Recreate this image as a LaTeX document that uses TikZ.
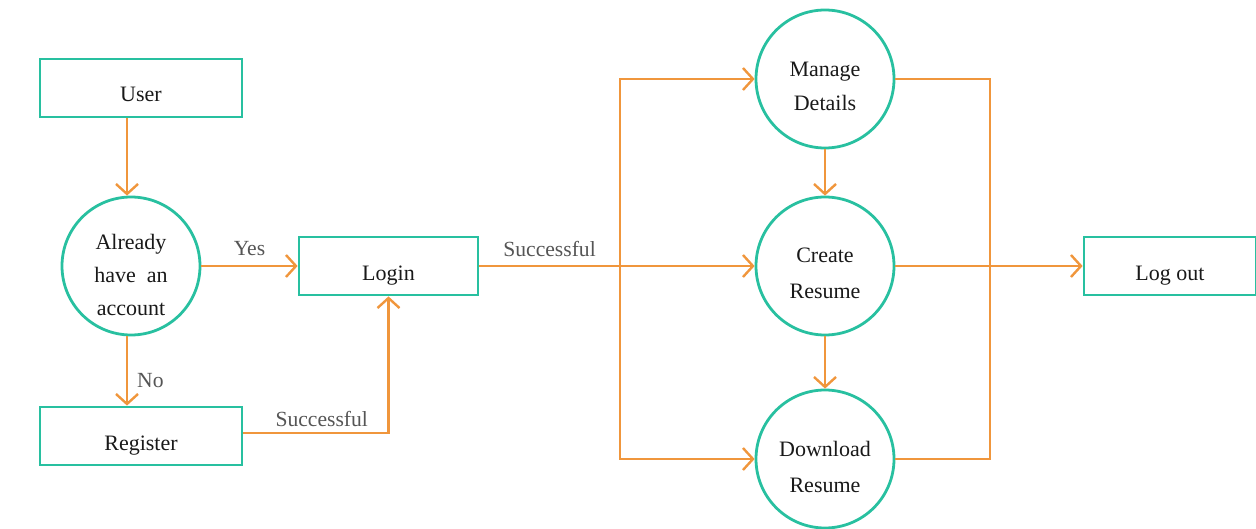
\documentclass[tikz,border=0pt]{standalone}
\usepackage{fontspec}
\setmainfont{Liberation Serif}
\usetikzlibrary{arrows.meta}
\definecolor{tealc}{RGB}{40,192,160}
\definecolor{orangec}{RGB}{240,150,60}
\definecolor{labelc}{RGB}{85,85,85}
\tikzset{
  box/.style={draw=tealc, line width=1.4pt, minimum width=101pt, minimum height=29pt, inner sep=0pt, text height=14pt, text depth=0pt, font=\fontsize{11}{16.5}\selectfont, text=black!90},
  proc/.style={draw=tealc, line width=1.4pt, circle, minimum size=69pt, inner sep=0pt},
  ctext/.style={align=center, inner sep=0pt, yshift=-3.8pt, font=\fontsize{11}{17.3}\selectfont, text=black!90},
  conn/.style={draw=orangec, line width=1.2pt},
  arr/.style={conn, -{Straight Barb[length=5pt,width=11pt,line width=1.2pt]}},
  lbl/.style={text=labelc, font=\fontsize{10.8}{13}\selectfont, inner sep=1pt}
}
\begin{document}
\begin{tikzpicture}[x=0.5pt,y=-0.5pt]
\useasboundingbox (0,0) rectangle (1256,529);
% nodes
\node[box] (user) at (141,88) {User};
\node[proc, label={[ctext, font=\fontsize{11}{16.5}\selectfont, yshift=-0.8pt]center:{Already\\have\ \ an\\account}}] (already) at (131,266) {};
\node[box] (register) at (141,436) {Register};
\node[box, minimum width=89.5pt] (login) at (388.5,266) {Login};
\node[proc, label={[ctext]center:{Manage\\Details}}] (manage) at (825,79) {};
\node[proc, label={[ctext, font=\fontsize{11}{18}\selectfont]center:{Create\\Resume}}] (create) at (825,266) {};
\node[proc, label={[ctext, font=\fontsize{11}{18}\selectfont]center:{Download\\Resume}}] (download) at (825,459) {};
\node[box, minimum width=86pt] (logout) at (1170,266) {Log out};
\coordinate (ljoin) at (620,266);
\coordinate (rjoin) at (990,266);
% connectors
\draw[arr] (user.south -| 127,0) -- (already.north -| 127,0);
\draw[arr] (already) -- (login) node[lbl, midway, above=3.5pt] {Yes};
\draw[arr] (already.south -| 127,0) -- (register.north -| 127,0) node[lbl, pos=0.64, right=3.5pt] {No};
\draw[arr] ([yshift=1.5pt]register.east) -| (login.south) node[lbl, pos=0.27, above=1.5pt] {Successful};
\draw[arr] (login) -- (create) node[lbl, pos=0.255, above=3pt] {Successful};
\draw[arr] (ljoin) |- (manage);
\draw[arr] (ljoin) |- (download);
\draw[conn] (manage) -| (rjoin);
\draw[conn] (download) -| (rjoin);
\draw[arr] (create) -- (logout);
\draw[arr] (manage) -- (create);
\draw[arr] (create) -- (download);
\end{tikzpicture}
\end{document}
